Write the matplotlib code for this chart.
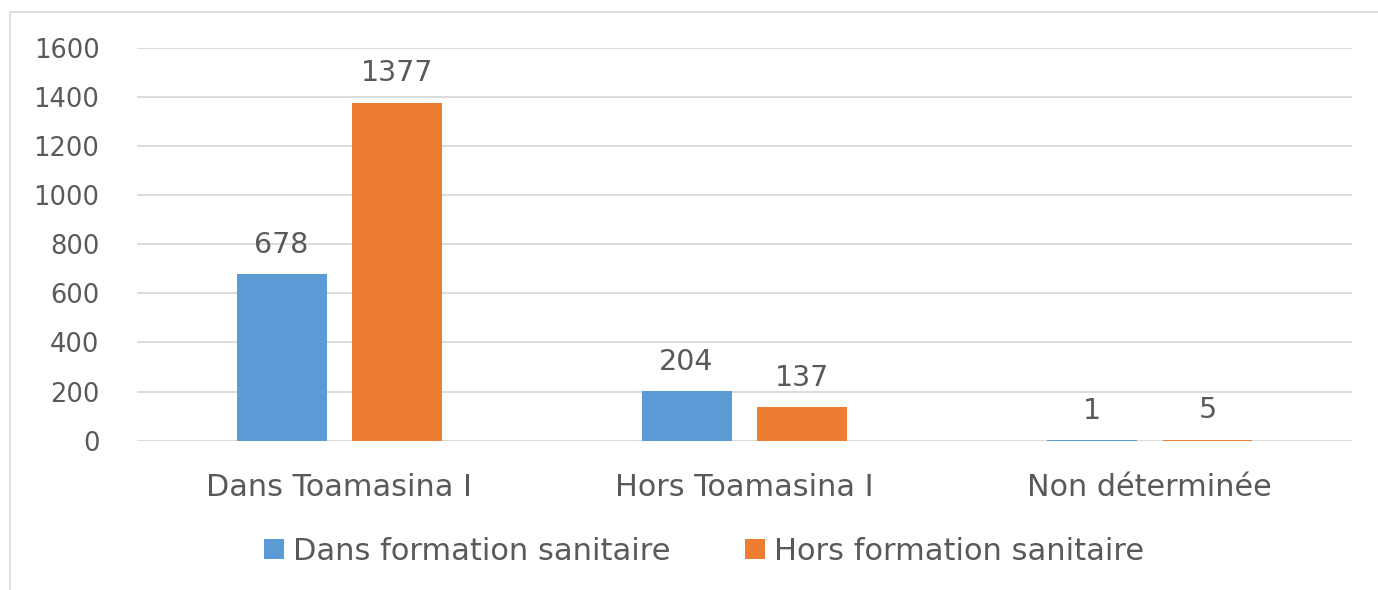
import matplotlib.pyplot as plt
import numpy as np
from matplotlib.lines import Line2D

categories = ['Dans Toamasina I', 'Hors Toamasina I', 'Non déterminée']
dans_formation = [678, 204, 1]
hors_formation = [1377, 137, 5]
series_names = ['Dans formation sanitaire', 'Hors formation sanitaire']
yticks = [0, 200, 400, 600, 800, 1000, 1200, 1400, 1600]

plt.rcParams['font.family'] = ['DejaVu Sans']
txt = '#595959'
blue = '#5B9BD5'
orange = '#ED7D31'

fig = plt.figure(figsize=(13.78, 5.9), dpi=100)
ax = fig.add_axes([0.0994, 0.253, 0.8818, 0.666])

x = np.arange(len(categories))
w = 0.222
off = 0.143
b1 = ax.bar(x - off, dans_formation, w, color=blue, label=series_names[0], zorder=3)
b2 = ax.bar(x + off, hors_formation, w, color=orange, label=series_names[1], zorder=3)

for bars, vals in ((b1, dans_formation), (b2, hors_formation)):
    for b, v in zip(bars, vals):
        ax.text(b.get_x() + b.get_width() / 2, v + 86, str(v), ha='center',
                va='baseline', fontsize=20.5, color=txt)

ax.set_xlim(-0.5, 2.5)
ax.set_ylim(0, 1600)
ax.set_yticks(yticks)
ax.set_yticklabels([str(t) for t in yticks], fontsize=18.5, color=txt)
ax.set_xticks(x)
ax.set_xticklabels(categories, fontsize=21.8, color=txt)
ax.tick_params(axis='both', length=0)
ax.tick_params(axis='y', pad=27)
ax.tick_params(axis='x', pad=23)
ax.grid(axis='y', color='#D9D9D9', linewidth=1.3, zorder=0)
for s in ax.spines.values():
    s.set_visible(False)

leg = fig.legend(handles=[b1, b2], loc='center', bbox_to_anchor=(0.511, 0.066),
                 ncol=2, frameon=False, fontsize=22, handlelength=0.65,
                 handleheight=0.65, handletextpad=0.3, columnspacing=2.45)
for t in leg.get_texts():
    t.set_color(txt)

# outer chart border (top and left visible)
fig.add_artist(Line2D([10 / 1378, 1], [1 - 12 / 590, 1 - 12 / 590],
                      transform=fig.transFigure, color='#D9D9D9', linewidth=1.2))
fig.add_artist(Line2D([10 / 1378, 10 / 1378], [0, 1 - 12 / 590],
                      transform=fig.transFigure, color='#D9D9D9', linewidth=1.2))

fig.savefig('out.png', dpi=100)
